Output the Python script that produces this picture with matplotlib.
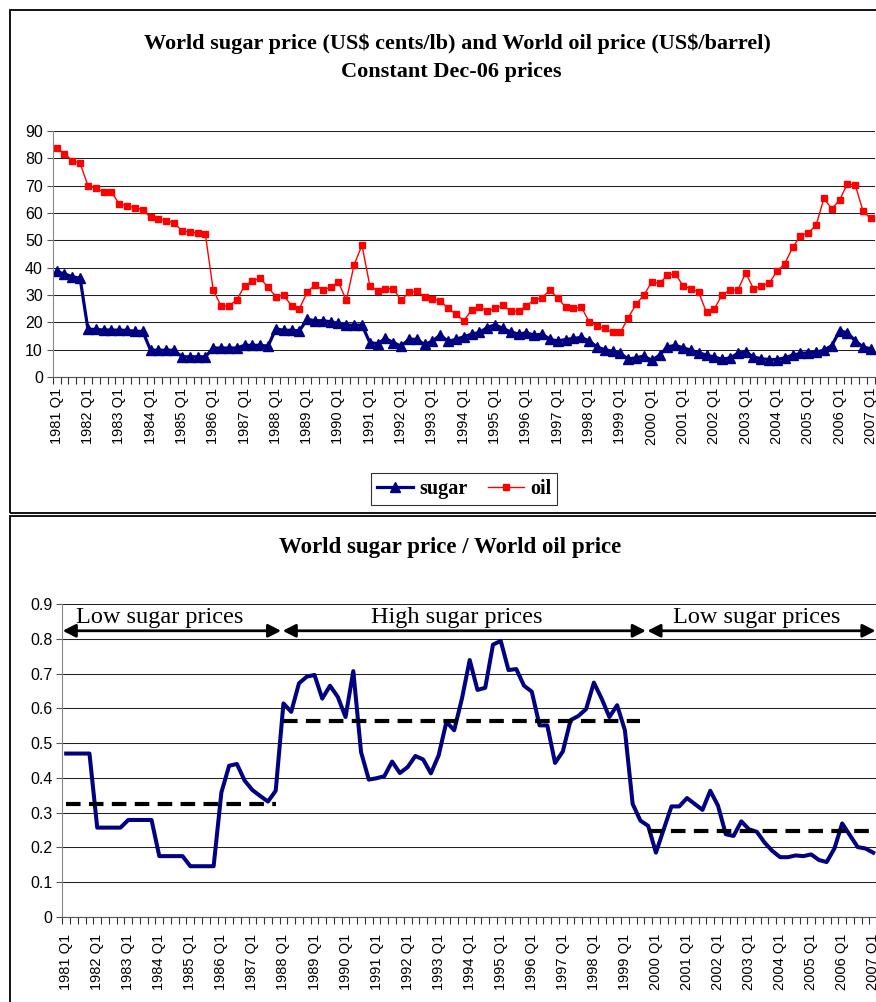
import matplotlib
matplotlib.use("Agg")
import matplotlib.pyplot as plt
from matplotlib.lines import Line2D
from matplotlib.patches import Rectangle

# ------------------------------------------------------------
# Data (quarterly, 1981 Q1 - 2007 Q1), constant Dec-06 prices
# ------------------------------------------------------------
years = list(range(1981, 2008))
year_labels = [f"{y} Q1" for y in years]

sugar = [
    38.6, 37.7, 36.7, 36.1, 17.5, 17.4, 17.2, 17.2,
    17.1, 17.1, 16.7, 16.7, 9.8, 9.8, 9.8, 9.8,
    7.4, 7.4, 7.4, 7.4, 10.6, 10.6, 10.6, 10.6,
    11.6, 11.6, 11.6, 11.3, 17.6, 17.1, 17.1, 16.9,
    21.1, 20.6, 20.6, 20.2, 19.6, 19.0, 19.0, 19.0,
    12.6, 12.2, 14.1, 12.6, 11.3, 13.8, 13.8, 11.9,
    13.1, 15.4, 13.0, 13.8, 14.7, 15.7, 16.3, 18.1,
    19.1, 17.8, 16.5, 15.7, 16.2, 15.3, 15.7, 13.8,
    13.2, 13.7, 14.1, 14.5, 13.2, 11.0, 10.0, 9.4,
    8.6, 6.6, 7.0, 7.7, 6.1, 8.0, 11.0, 11.6,
    10.7, 9.8, 8.9, 8.0, 7.3, 6.5, 7.0, 8.6,
    9.2, 7.3, 6.7, 6.4, 6.4, 7.0, 8.0, 8.6,
    8.9, 9.1, 9.8, 11.5, 16.9, 16.2, 13.2, 11.0, 10.3,
]

oil = [
    83.8, 81.7, 79.2, 78.2, 70.0, 69.1, 67.7, 67.7,
    63.3, 62.7, 62.0, 61.2, 58.4, 57.9, 57.2, 56.4,
    53.5, 53.1, 52.7, 52.2, 31.8, 26.0, 26.0, 28.2,
    33.3, 35.1, 36.2, 32.8, 29.4, 29.9, 26.1, 25.0,
    31.0, 33.8, 31.8, 32.9, 34.7, 28.0, 41.1, 48.2,
    33.4, 31.5, 32.3, 32.3, 28.0, 31.0, 31.3, 29.4,
    28.4, 27.9, 25.1, 23.0, 20.6, 24.5, 25.6, 24.1,
    25.1, 26.2, 24.1, 24.1, 26.1, 28.2, 29.0, 31.8,
    28.9, 25.6, 25.1, 25.6, 20.3, 18.7, 17.8, 16.3,
    16.3, 21.7, 26.6, 30.0, 34.7, 34.3, 37.2, 37.8,
    33.4, 32.3, 31.0, 23.6, 25.0, 30.0, 31.8, 31.8,
    38.1, 32.3, 33.3, 34.3, 38.7, 41.5, 47.4, 51.7,
    52.7, 55.6, 65.4, 61.5, 64.8, 70.7, 70.2, 60.6, 58.0,
]

ratio = [
    0.470, 0.470, 0.470, 0.470, 0.257, 0.257, 0.257, 0.257,
    0.279, 0.279, 0.279, 0.279, 0.175, 0.175, 0.175, 0.175,
    0.146, 0.146, 0.146, 0.146, 0.358, 0.435, 0.440, 0.392,
    0.365, 0.348, 0.332, 0.363, 0.614, 0.590, 0.672, 0.691,
    0.696, 0.628, 0.665, 0.633, 0.575, 0.707, 0.474, 0.395,
    0.399, 0.405, 0.447, 0.414, 0.431, 0.463, 0.453, 0.413,
    0.465, 0.561, 0.537, 0.628, 0.739, 0.653, 0.659, 0.783,
    0.794, 0.710, 0.713, 0.665, 0.648, 0.551, 0.551, 0.443,
    0.476, 0.566, 0.578, 0.598, 0.674, 0.628, 0.575, 0.609,
    0.537, 0.325, 0.277, 0.262, 0.185, 0.252, 0.318, 0.318,
    0.342, 0.325, 0.308, 0.363, 0.320, 0.238, 0.233, 0.275,
    0.252, 0.245, 0.214, 0.190, 0.172, 0.172, 0.177, 0.175,
    0.180, 0.164, 0.158, 0.197, 0.269, 0.235, 0.201, 0.197, 0.185,
]

period_names = ["Low sugar prices", "High sugar prices", "Low sugar prices"]
period_first = [0, 28, 75]
period_last = [27, 74, 104]
period_mean = [0.325, 0.565, 0.248]
period_bounds = [-0.45, 27.8, 74.8, 104.3]
period_label_x = [12.1, 50.3, 89.0]

# ------------------------------------------------------------
# Styling
# ------------------------------------------------------------
NAVY = "#000080"
RED = "#FF0000"
SERIF = ["Liberation Serif", "DejaVu Serif"]
plt.rcParams["font.family"] = ["Liberation Sans", "DejaVu Sans"]

W, H = 876, 1002
fig = plt.figure(figsize=(W / 100, H / 100), dpi=100)

n = len(sugar)
x = list(range(n))
label_pos = list(range(0, n, 4))


def px(xp, yp):
    return xp / W, 1 - yp / H


def style_time_axis(ax, pad):
    ax.set_xlim(-0.5, n - 0.5)
    ax.set_xticks(label_pos)
    ax.set_xticklabels(year_labels, rotation=90, fontsize=10.5)
    ax.set_xticks([i - 0.5 for i in range(n + 1)], minor=True)
    ax.tick_params(axis="x", which="major", length=0, pad=pad)
    ax.tick_params(axis="x", which="minor", length=5, width=0.8, color="#333333")
    ax.tick_params(axis="y", which="major", length=4, width=0.8, color="#555555",
                   labelsize=11.5, pad=3)
    ax.grid(axis="y", color="#222222", lw=0.75)
    ax.set_axisbelow(True)
    for side in ["top", "right"]:
        ax.spines[side].set_visible(False)
    ax.spines["left"].set_color("#888888")
    ax.spines["bottom"].set_color("#555555")


# panel borders (Excel chart frames)
fig.patches.append(Rectangle(px(10, 513), 1.0, 503 / H, transform=fig.transFigure,
                             fill=False, ec="black", lw=1.3))
fig.patches.append(Rectangle(px(10, 1010), 1.0, 494 / H, transform=fig.transFigure,
                             fill=False, ec="black", lw=1.3))

# ------------------------------------------------------------
# Top: sugar and oil prices
# ------------------------------------------------------------
l, b = px(52.7, 377)
ax1 = fig.add_axes([l, b, 105 * 7.83 / W, 246 / H])
ax1.plot(x, oil, color=RED, lw=1.0, marker="s", ms=4.5, mec=RED, mfc=RED)
ax1.plot(x, sugar, color=NAVY, lw=2.3, marker="^", ms=6.5, mec=NAVY, mfc=NAVY)
ax1.set_ylim(0, 90)
ax1.set_yticks(range(0, 91, 10))
style_time_axis(ax1, pad=8)

fig.text(*px(457, 44), "World sugar price (US\\$ cents/lb) and World oil price (US\\$/barrel)",
         ha="center", va="center", fontsize=16, fontweight="bold", family=SERIF)
fig.text(*px(451, 72), "Constant Dec-06 prices",
         ha="center", va="center", fontsize=16, fontweight="bold", family=SERIF)

handles = [
    Line2D([], [], color=NAVY, lw=2.3, marker="^", ms=6.5),
    Line2D([], [], color=RED, lw=1.0, marker="s", ms=4.5),
]
leg = fig.legend(handles, ["sugar", "oil"], loc="center", bbox_to_anchor=px(464, 489),
                 ncol=2, frameon=True, fancybox=False, edgecolor="black",
                 handlelength=1.8, handletextpad=0.3, columnspacing=1.0,
                 borderpad=0.3, prop={"family": SERIF, "weight": "bold", "size": 14.5})
leg.get_frame().set_linewidth(0.8)

# ------------------------------------------------------------
# Bottom: sugar / oil ratio
# ------------------------------------------------------------
l, b = px(62.3, 917)
ax2 = fig.add_axes([l, b, 105 * 7.76 / W, 313 / H])
ax2.plot(x, ratio, color=NAVY, lw=2.9)
for first, last, mean in zip(period_first, period_last, period_mean):
    ax2.plot([first, last], [mean, mean], color="black", lw=3, dashes=(3.5, 2))
ax2.set_ylim(0, 0.9)
ax2.set_yticks([i / 10 for i in range(10)])
ax2.set_yticklabels(["0"] + [f"{i / 10:.1f}" for i in range(1, 10)])
style_time_axis(ax2, pad=12)

for i, name in enumerate(period_names):
    x0, x1 = period_bounds[i], period_bounds[i + 1]
    if i > 0:
        x0 += 0.1
    if i < len(period_names) - 1:
        x1 -= 0.1
    ax2.annotate("", xy=(x1, 0.823), xytext=(x0, 0.823),
                 arrowprops=dict(arrowstyle="<|-|>,head_length=0.55,head_width=0.28",
                                 color="black", lw=2, shrinkA=0, shrinkB=0,
                                 mutation_scale=14))
    ax2.text(period_label_x[i], 0.832, name,
             ha="center", va="bottom", fontsize=17.5, family=SERIF)

fig.text(*px(450, 548), "World sugar price / World oil price",
         ha="center", va="center", fontsize=16.5, fontweight="bold", family=SERIF)

fig.savefig("out.png", dpi=100)
